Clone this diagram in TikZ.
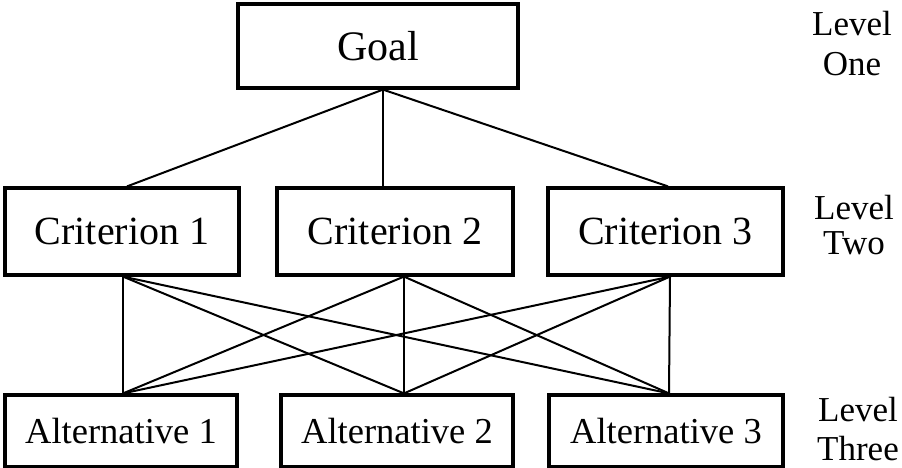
\documentclass[tikz,border=0pt]{standalone}
\usepackage{fontspec}
\setmainfont{Liberation Serif}
\begin{document}
\begin{tikzpicture}[x=1pt,y=-1pt,
  box/.style={draw=black,line width=3.2pt,inner sep=0pt,minimum height=#1},
  link/.style={draw=black,line width=2pt},
  lvl/.style={align=center,inner sep=0pt}]
\useasboundingbox (0,0) rectangle (902,468);
\node[box=84pt,minimum width=280pt,font=\fontsize{42}{42}\selectfont] (goal) at (378,46) {Goal};
\node[box=87pt,minimum width=234pt,font=\fontsize{40}{40}\selectfont] (c1) at (122,231.5) {Criterion 1};
\node[box=87pt,minimum width=236pt,font=\fontsize{40}{40}\selectfont] (c2) at (395,231.5) {Criterion 2};
\node[box=87pt,minimum width=235pt,font=\fontsize{40}{40}\selectfont] (c3) at (665.5,231.5) {Criterion 3};
\node[box=72pt,minimum width=232pt,font=\fontsize{36.5}{36.5}\selectfont] (a1) at (121,431) {Alternative 1};
\node[box=72pt,minimum width=232pt,font=\fontsize{36.5}{36.5}\selectfont] (a2) at (397,431) {Alternative 2};
\node[box=72pt,minimum width=234pt,font=\fontsize{36.5}{36.5}\selectfont] (a3) at (666,431) {Alternative 3};
\node[lvl,font=\fontsize{35}{40}\selectfont] (l1) at (852,44) {Level\\One};
\node[lvl,font=\fontsize{35}{35}\selectfont] (l2) at (854,225) {Level\\Two};
\node[lvl,font=\fontsize{35}{39}\selectfont] (l3) at (858,429) {Level\\Three};
% connection points
\coordinate (gs) at ([xshift=5pt]goal.south);
\coordinate (c1n) at ([xshift=5pt]c1.north);
\coordinate (c2n) at ([xshift=-12pt]c2.north);
\coordinate (c3n) at ([xshift=2.5pt]c3.north);
\coordinate (c1s) at ([xshift=1pt]c1.south);
\coordinate (c2s) at ([xshift=9pt]c2.south);
\coordinate (c3s) at ([xshift=4.5pt]c3.south);
\coordinate (a1n) at ([xshift=2pt]a1.north);
\coordinate (a2n) at ([xshift=7pt]a2.north);
\coordinate (a3n) at ([xshift=3pt]a3.north);
\draw[link] (gs) -- (c1n);
\draw[link] (gs) -- (c2n);
\draw[link] (gs) -- (c3n);
\foreach \c in {c1s,c2s,c3s}{
  \foreach \a in {a1n,a2n,a3n}{
    \draw[link] (\c) -- (\a);
  }
}
\end{tikzpicture}
\end{document}
